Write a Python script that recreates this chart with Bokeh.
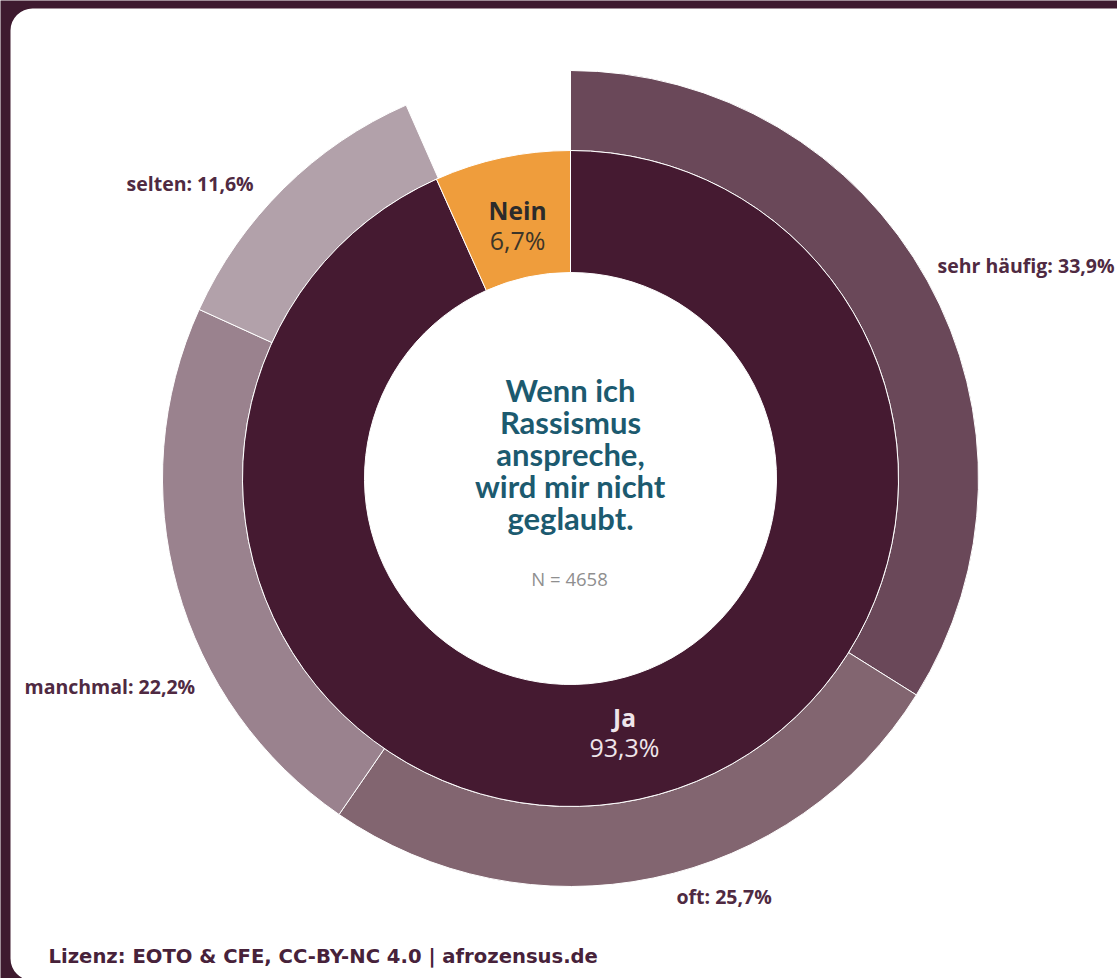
import numpy as np
from bokeh.plotting import figure
from bokeh.models import Range1d, BoxAnnotation, ColumnDataSource
from bokeh.core.properties import value
from bokeh.embed import file_html
from bokeh.resources import INLINE

# ---------------- data ----------------
inner_labels = ["Ja", "Nein"]
inner_values = [93.3, 6.7]
outer_labels = ["sehr häufig", "oft", "manchmal", "selten"]
outer_values = [33.9, 25.7, 22.2, 11.6]
title_lines = ["Wenn ich", "Rassismus", "anspreche,", "wird mir nicht", "geglaubt."]
n_text = "N = 4658"
footer = "Lizenz: EOTO & CFE, CC-BY-NC 4.0 | afrozensus.de"

inner_colors = ["#451a31", "#ef9d3c"]
outer_colors = ["#6a4859", "#826570", "#9a828e", "#b2a1aa"]

W, H = 1117, 978
CX, CY = 570, H - 478

def px(y):
    return H - y

def wedge_angles(values):
    v = np.array(values, dtype=float) / 100.0
    cum = np.concatenate([[0], np.cumsum(v)])
    # clockwise from top
    start = np.pi / 2 - cum[1:] * 2 * np.pi
    end = np.pi / 2 - cum[:-1] * 2 * np.pi
    return start, end

p = figure(width=W, height=H, x_range=Range1d(0, W), y_range=Range1d(0, H),
           output_backend="svg", toolbar_location=None,
           x_axis_type=None, y_axis_type=None, min_border=0,
           background_fill_color="#3e1a2f", border_fill_color="#3e1a2f")
p.grid.visible = False
p.outline_line_color = None

card = BoxAnnotation(left=10, right=W + 30, bottom=px(980), top=px(8),
                     fill_color="white", fill_alpha=1.0, line_color=None,
                     border_radius=22, level="underlay")
p.add_layout(card)

# outer ring
os_, oe_ = wedge_angles(outer_values)
src_o = ColumnDataSource(dict(start=os_, end=oe_, color=outer_colors, label=outer_labels))
p.annular_wedge(x=CX, y=CY, inner_radius=328, outer_radius=408,
                start_angle="start", end_angle="end", color="color",
                line_color="white", line_width=1, source=src_o)

# inner ring
is_, ie_ = wedge_angles(inner_values)
src_i = ColumnDataSource(dict(start=is_, end=ie_, color=inner_colors, label=inner_labels))
p.annular_wedge(x=CX, y=CY, inner_radius=206, outer_radius=328,
                start_angle="start", end_angle="end", color="color",
                line_color="white", line_width=1, source=src_i)

def fmt(v):
    return f"{v:.1f}".replace(".", ",") + "%"

# outer labels
outer_pos = [(937, 265, "left"), (676, 896, "left"), (24, 686, "left"), (126, 183, "left")]
for lab, val, (x, y, al) in zip(outer_labels, outer_values, outer_pos):
    p.text(x=[x], y=[px(y)], text=[f"{lab}: {fmt(val)}"], text_align=al,
           text_baseline="middle", text_font=value("Open Sans"),
           text_font_style="bold", text_font_size="19.5px", text_color="#4f2a42")

# inner labels
inner_pos = [(624, 717, "#efe5ea", "#efe5ea"), (517, 210, "#2b2b2b", "#3d3528")]
for lab, val, (x, y, c1, c2) in zip(inner_labels, inner_values, inner_pos):
    p.text(x=[x], y=[px(y)], text=[lab], text_align="center", text_baseline="middle",
           text_font=value("Open Sans"), text_font_style="bold",
           text_font_size="24.5px", text_color=c1)
    p.text(x=[x], y=[px(y + 29)], text=[fmt(val)], text_align="center",
           text_baseline="middle", text_font=value("Open Sans"),
           text_font_size="25px", text_color=c2)

# title
for i, line in enumerate(title_lines):
    p.text(x=[CX], y=[px(389 + i * 32)], text=[line], text_align="center",
           text_baseline="middle", text_font=value("Lato"), text_font_style="bold",
           text_font_size="31px", text_color="#1c5a6f")

p.text(x=[569], y=[px(578)], text=[n_text], text_align="center", text_baseline="middle",
       text_font=value("Open Sans"), text_font_size="18.5px", text_color="#8f8f8f")

p.text(x=[48], y=[px(956)], text=[footer], text_align="left", text_baseline="middle",
       text_font=value("DejaVu Sans"), text_font_style="bold", text_font_size="19.6px",
       text_color="#47223a")

open("out.html", "w").write(file_html(p, INLINE))
